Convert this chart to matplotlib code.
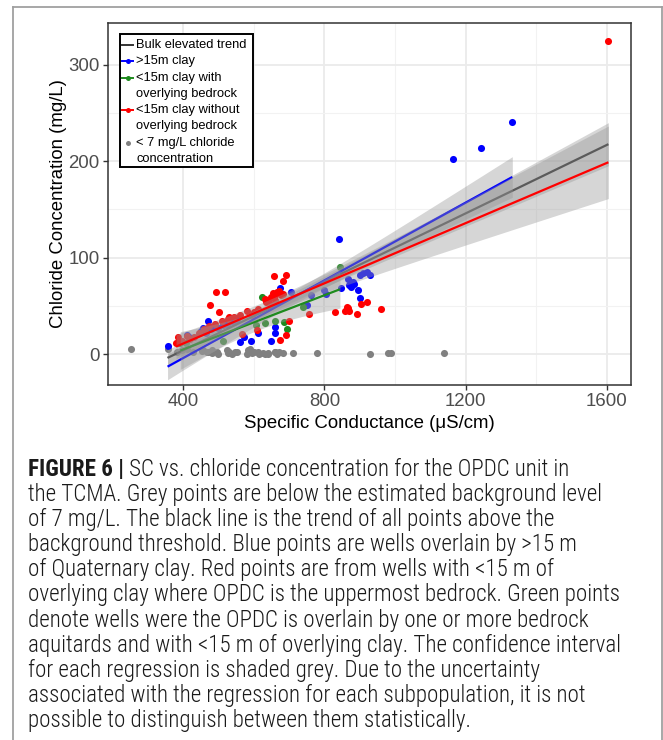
import numpy as np
import matplotlib
matplotlib.use('Agg')
import matplotlib.pyplot as plt
from matplotlib.transforms import Affine2D
from matplotlib.lines import Line2D
from matplotlib.patches import Rectangle

# ---------------- data ----------------
blue_x = [356, 411, 416, 450, 457, 465, 470, 478, 490, 500, 514, 525, 540, 552,
          561, 573, 592, 613, 649, 660, 660, 673, 705, 752, 763, 798, 805,
          840, 846, 868, 870, 874, 880, 885, 896, 901, 900, 910, 920, 928,
          1164, 1244, 1332]
blue_y = [8, 20, 18, 24, 27, 22, 34, 26, 28, 27, 30, 31, 33, 36,
          13, 18, 14, 22, 14, 22, 28, 68, 64, 51, 61, 66, 62,
          119, 69, 78, 72, 70, 75, 73, 66, 58, 82, 84, 85, 82,
          202, 214, 240]

green_x = [392, 409, 512, 607, 624, 633, 659, 685, 695, 739, 844]
green_y = [11, 12, 14, 30, 59, 32, 34, 33, 26, 49, 90]

red_x = [380, 385, 397, 412, 420, 430, 445, 458, 462, 474, 476, 490, 494, 502,
         510, 518, 528, 531, 545, 560, 566, 581, 596, 602, 612, 608,
         631, 635, 641, 645, 649, 654, 659, 661, 666, 671, 678, 683, 656, 692, 684,
         700, 692, 673, 757, 830, 857, 864, 871, 866, 893, 905, 920, 959, 1604]
red_y = [12, 18, 14, 19, 16, 18, 22, 26, 25, 29, 51, 31, 64, 44,
         34, 64, 36, 38, 38, 40, 21, 45, 41, 44, 47, 25,
         57, 54, 55, 52, 59, 63, 56, 61, 64, 65, 61, 62, 81, 82, 76,
         34, 20, 15, 42, 44, 45, 49, 45, 48, 42, 52, 54, 47, 324]

grey_x = [252, 356, 382, 397, 412, 429, 453, 457, 468, 470, 482, 483, 496, 499,
          524, 528, 531, 539, 547, 553, 580, 584, 588, 595, 600, 612, 615, 626,
          633, 640, 641, 660, 661, 666, 671, 683, 711, 778, 930, 981, 988, 1139]
grey_y = [5, 5.5, 2, 3.8, 5.5, 2, 3, 4, 2, 2.4, 0.7, 3.8, 2.4, 0.3,
          3.8, 0.7, 2, 0.3, 2, 2.4, 0.3, 4, 5.5, 1, 2, 2.4, 0.3, 1,
          0.3, 0.7, 0.3, 2.4, 2, 0.3, 2, 1, 0.7, 1, 0.3, 1, 1, 1]

x_ticks = [400, 800, 1200, 1600]
y_ticks = [0, 100, 200, 300]
x_label = "Specific Conductance (\u03bcS/cm)"
y_label = "Chloride Concentration (mg/L)"

legend_entries = [
    ("line", "#333333", ["Bulk elevated trend"]),
    ("both", "#0000FF", [">15m clay"]),
    ("both", "#1E8B1E", ["<15m clay with", "overlying bedrock"]),
    ("both", "#FF0000", ["<15m clay without", "overlying bedrock"]),
    ("point", "#808080", ["< 7 mg/L chloride", "concentration"]),
]

caption_bold = "FIGURE 6 |"
caption_lines = [
    " SC vs. chloride concentration for the OPDC unit in",
    "the TCMA. Grey points are below the estimated background level",
    "of 7 mg/L. The black line is the trend of all points above the",
    "background threshold. Blue points are wells overlain by >15 m",
    "of Quaternary clay. Red points are from wells with <15 m of",
    "overlying clay where OPDC is the uppermost bedrock. Green points",
    "denote wells were the OPDC is overlain by one or more bedrock",
    "aquitards and with <15 m of overlying clay. The confidence interval",
    "for each regression is shaded grey. Due to the uncertainty",
    "associated with the regression for each subpopulation, it is not",
    "possible to distinguish between them statistically.",
]

# ---------------- figure ----------------
W, H = 663, 740
fig = plt.figure(figsize=(W / 100, H / 100), dpi=100)
fig.patch.set_facecolor('white')
pix = Affine2D().scale(1 / W, -1 / H).translate(0, 1) + fig.transFigure

AX_L, AX_R, AX_T, AX_B = 107.5, 631, 23, 385
ax = fig.add_axes([AX_L / W, 1 - AX_B / H, (AX_R - AX_L) / W, (AX_B - AX_T) / H])
ax.set_facecolor('white')
ax.set_xlim(186, 1668)
ax.set_ylim(-32, 343)

sans = ['Liberation Sans', 'Arial', 'DejaVu Sans']

ax.set_xticks(x_ticks)
ax.set_yticks(y_ticks)
ax.set_xticks([600, 1000, 1400], minor=True)
ax.set_yticks([50, 150, 250], minor=True)
ax.grid(True, which='major', color='#EBEBEB', lw=1.3, zorder=0)
ax.grid(True, which='minor', color='#F2F2F2', lw=0.8, zorder=0)
ax.set_axisbelow(True)
ax.tick_params(which='major', length=3.3, width=1.0, color='#333333',
               labelcolor='#4D4D4D', labelsize=13.4, pad=2.5)
ax.tick_params(which='minor', length=0)
for lab in ax.get_xticklabels() + ax.get_yticklabels():
    lab.set_family(sans)
for sp in ax.spines.values():
    sp.set_color('#333333')
    sp.set_linewidth(1.1)
    sp.set_zorder(6)

ax.set_xlabel(x_label, fontsize=13.4, family=sans, color='black')
ax.set_ylabel(y_label, fontsize=13.4, family=sans, color='black')
ax.xaxis.set_label_coords(0.5, -0.083)
ax.yaxis.set_label_coords(-0.078, 0.5)

# points
ms = 26
ax.scatter(grey_x, grey_y, s=ms, color='#808080', lw=0, zorder=2)
ax.scatter(blue_x, blue_y, s=ms, color='#0000FF', lw=0, zorder=2)
ax.scatter(green_x, green_y, s=ms, color='#1E8B1E', lw=0, zorder=2)
ax.scatter(red_x, red_y, s=ms, color='#FF0000', lw=0, zorder=2)


def t975(df):
    z = 1.959964
    return z + (z ** 3 + z) / (4 * df) + (5 * z ** 5 + 16 * z ** 3 + 3 * z) / (96 * df ** 2)


def smooth(x, y, color, z):
    x = np.asarray(x, float)
    y = np.asarray(y, float)
    n = len(x)
    b, a = np.polyfit(x, y, 1)
    xs = np.linspace(x.min(), x.max(), 100)
    yhat = a + b * xs
    resid = y - (a + b * x)
    s = np.sqrt(np.sum(resid ** 2) / (n - 2))
    sxx = np.sum((x - x.mean()) ** 2)
    se = s * np.sqrt(1 / n + (xs - x.mean()) ** 2 / sxx)
    t = t975(n - 2)
    ax.fill_between(xs, yhat - t * se, yhat + t * se, color='#999999', alpha=0.4,
                    lw=0, zorder=z)
    ax.plot(xs, yhat, color=color, lw=1.6, zorder=z + 0.1, solid_capstyle='butt')


all_x = blue_x + green_x + red_x
all_y = blue_y + green_y + red_y
smooth(all_x, all_y, '#333333', 3)
smooth(blue_x, blue_y, '#0000FF', 3.2)
smooth(green_x, green_y, '#1E8B1E', 3.4)
smooth(red_x, red_y, '#FF0000', 3.6)

# ---------------- legend (drawn in pixel coordinates) ----------------
fig.add_artist(Rectangle((119.5, 33.5), 133, 133, transform=pix, facecolor='white',
                         edgecolor='black', lw=1.4, zorder=10))
row_y = 44.5
for kind, col, lines in legend_entries:
    if kind in ('line', 'both'):
        fig.add_artist(Line2D([122, 133], [row_y, row_y], transform=pix, color=col,
                              lw=1.4, zorder=11))
    if kind in ('point', 'both'):
        fig.add_artist(Line2D([127.5], [row_y], transform=pix, color=col, marker='o',
                              ms=3.6, mew=0, lw=0, zorder=12))
    for j, txt in enumerate(lines):
        fig.text(136.5, row_y + 15.8 * j, txt, transform=pix, fontsize=9.3, family=sans,
                 color='black', va='center', ha='left', zorder=12)
    row_y += 15.8 * len(lines) + 0.9

# ---------------- outer border ----------------
bcol = '#A0A0A0'
fig.add_artist(Line2D([12.5, 12.5], [6.5, 740], transform=pix, color=bcol, lw=1.3))
fig.add_artist(Line2D([12.5, 661.5], [6.5, 6.5], transform=pix, color=bcol, lw=1.3))
fig.add_artist(Line2D([661.5, 661.5], [6.5, 740], transform=pix, color=bcol, lw=1.3))

# ---------------- caption ----------------
cap_family = ['Roboto Condensed', 'Roboto', 'DejaVu Sans']
renderer = fig.canvas.get_renderer()
probe = fig.text(0, 0, caption_lines[7], fontsize=14, family=cap_family, weight='light')
wpx = probe.get_window_extent(renderer).width
probe.remove()
cap_size = min(16.6, 14 * 602.0 / wpx)

base0 = 476
step = 25.1
x0 = 28
bt = fig.text(x0, base0, caption_bold, transform=pix, fontsize=cap_size,
              family=cap_family, weight='bold', color='#1A1A1A', va='baseline')
bw = bt.get_window_extent(renderer).width
for i, line in enumerate(caption_lines):
    xx = x0 + (bw if i == 0 else 0)
    fig.text(xx, base0 + step * i, line, transform=pix, fontsize=cap_size,
             family=cap_family, weight='light', color='#1A1A1A', va='baseline', ha='left')

fig.savefig('out.png', dpi=100, facecolor='white')
